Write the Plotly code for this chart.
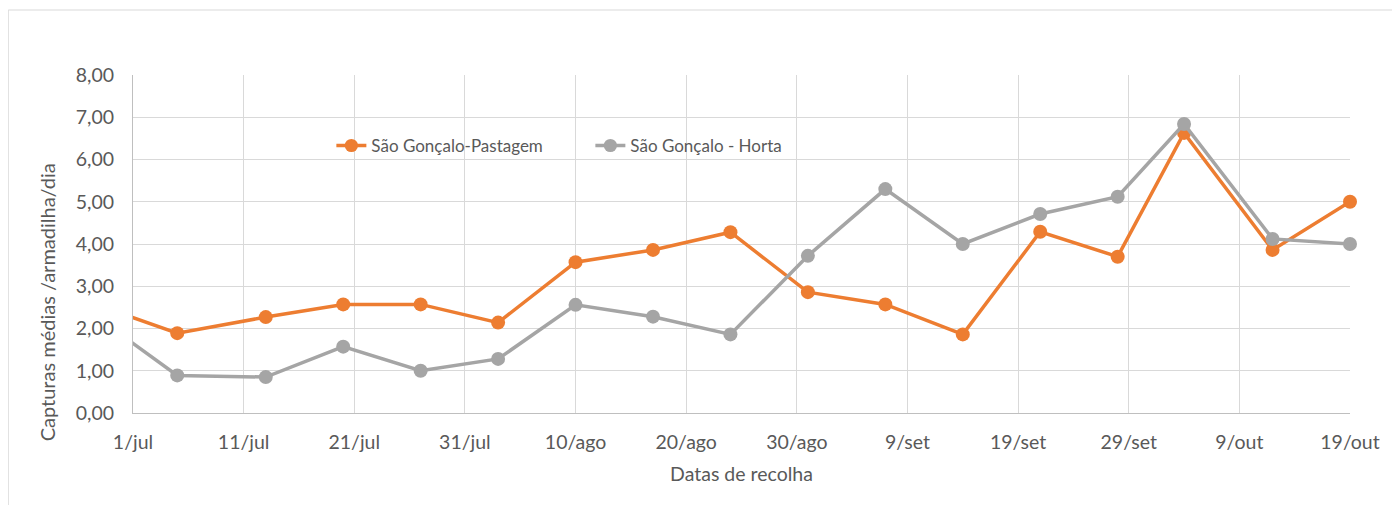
import plotly.graph_objects as go

dates = ["2019-06-28", "2019-07-05", "2019-07-13", "2019-07-20", "2019-07-27",
         "2019-08-03", "2019-08-10", "2019-08-17", "2019-08-24", "2019-08-31",
         "2019-09-07", "2019-09-14", "2019-09-21", "2019-09-28", "2019-10-04",
         "2019-10-12", "2019-10-19"]
pastagem = [2.53, 1.89, 2.27, 2.57, 2.57, 2.14, 3.57, 3.86, 4.28, 2.86, 2.57,
            1.86, 4.29, 3.70, 6.63, 3.86, 5.00]
horta = [2.22, 0.89, 0.85, 1.57, 1.00, 1.28, 2.56, 2.28, 1.86, 3.72, 5.30,
         4.00, 4.71, 5.12, 6.84, 4.12, 4.00]

tick_dates = ["2019-07-01", "2019-07-11", "2019-07-21", "2019-07-31",
              "2019-08-10", "2019-08-20", "2019-08-30", "2019-09-09",
              "2019-09-19", "2019-09-29", "2019-10-09", "2019-10-19"]
tick_labels = ["1/jul", "11/jul", "21/jul", "31/jul", "10/ago", "20/ago",
               "30/ago", "9/set", "19/set", "29/set", "9/out", "19/out"]
y_ticks = [0, 1, 2, 3, 4, 5, 6, 7, 8]
y_labels = ["0,00", "1,00", "2,00", "3,00", "4,00", "5,00", "6,00", "7,00", "8,00"]

names = ["São Gonçalo-Pastagem", "São Gonçalo - Horta"]
colors = ["#ED7D31", "#A5A5A5"]

FONT = "Lato"
TXT = "#595959"

fig = go.Figure()
for name, vals, col in zip(names, [pastagem, horta], colors):
    sizes = [0] + [14] * (len(vals) - 1)
    fig.add_trace(go.Scatter(
        x=dates, y=vals, name=name, mode="lines+markers",
        line=dict(color=col, width=3.5),
        marker=dict(color=col, size=sizes, opacity=1, line=dict(width=0)),
        cliponaxis=False,
    ))

fig.update_layout(
    width=1384, height=497,
    margin=dict(l=125, r=36, t=67, b=92),
    paper_bgcolor="white", plot_bgcolor="white",
    font=dict(family=FONT, size=19.5, color=TXT),
    showlegend=True,
    legend=dict(orientation="h", x=0.163, y=0.79, xanchor="left", yanchor="middle",
                bgcolor="rgba(0,0,0,0)", font=dict(family=FONT, size=17, color=TXT),
                entrywidth=214, itemwidth=30, traceorder="normal"),
    xaxis=dict(type="date", range=["2019-07-01", "2019-10-19"],
               tickmode="array", tickvals=tick_dates, ticktext=tick_labels,
               showgrid=True, gridcolor="#d9d9d9", gridwidth=1,
               showline=True, linecolor="#bfbfbf", linewidth=1,
               ticks="", ticklabelstandoff=12, zeroline=False,
               tickfont=dict(family=FONT, size=19.5, color=TXT),
               title=dict(text="Datas de recolha", standoff=14,
                          font=dict(family=FONT, size=19.5, color=TXT))),
    yaxis=dict(range=[0, 8], tickmode="array", tickvals=y_ticks, ticktext=y_labels,
               showgrid=True, gridcolor="#d9d9d9", gridwidth=1,
               showline=True, linecolor="#bfbfbf", linewidth=1,
               ticks="", ticklabelstandoff=14, zeroline=False,
               tickfont=dict(family=FONT, size=19.5, color=TXT)),
    annotations=[dict(text="Capturas médias /armadilha/dia", xref="paper", yref="paper",
                      x=-0.0705, y=0.328, textangle=-90, showarrow=False,
                      xanchor="center", yanchor="middle",
                      font=dict(family=FONT, size=20, color=TXT))],
    shapes=[dict(type="rect", xref="paper", yref="paper", x0=-0.1025, y0=-0.5,
                 x1=1.1, y1=1.1923, line=dict(color="#d9d9d9", width=1),
                 fillcolor="rgba(0,0,0,0)", layer="below")],
)

fig.write_html("out.html")
